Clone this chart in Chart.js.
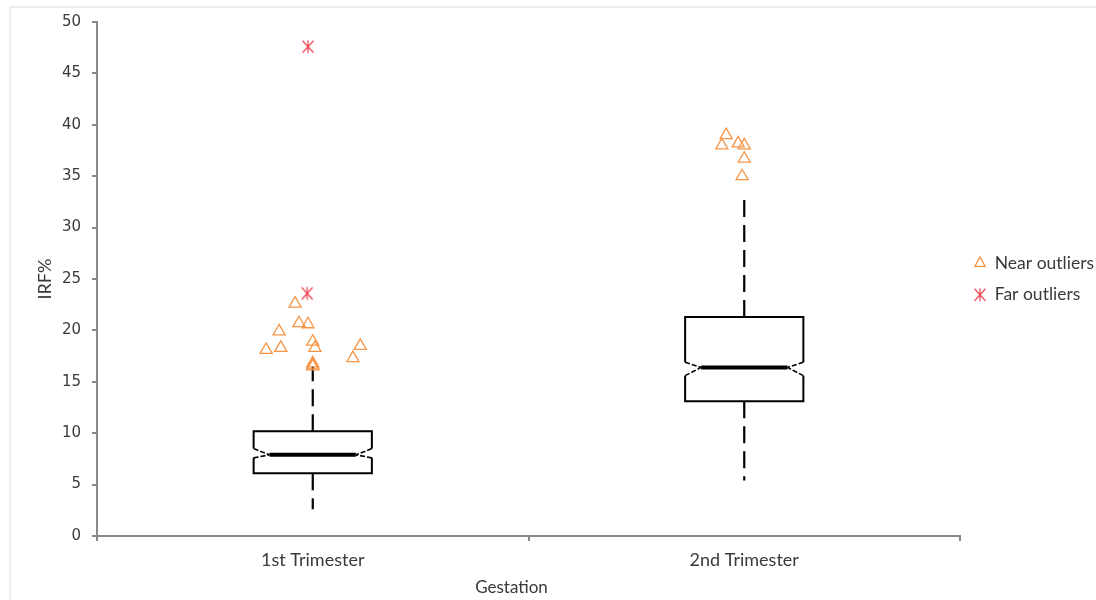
<!DOCTYPE html>
<html>
<head>
<meta charset="utf-8">
<script src="https://cdn.jsdelivr.net/npm/chart.js@4.4.1/dist/chart.umd.min.js"></script>
<style>
  body { margin: 0; background: #fff; }
  #wrap { position: relative; width: 1096px; height: 600px; overflow: hidden; }
  #frame { position: absolute; left: 9px; top: 6px; width: 1200px; height: 700px;
           border-left: 2px solid #ececec; border-top: 2px solid #ececec; }
  canvas { position: absolute; left: 0; top: 0; }
</style>
</head>
<body>
<div id="wrap">
  <div id="frame"></div>
  <canvas id="irf" width="1096" height="600"></canvas>
</div>
<script>
// categories and box statistics (IRF %)
const categories = ['1st Trimester', '2nd Trimester'];
const whiskerLow = [2.6, 5.4];
const q1 = [6.1, 13.1];
const notchLow = [7.6, 15.6];
const median = [7.9, 16.4];
const notchHigh = [8.5, 16.9];
const q3 = [10.2, 21.3];
const whiskerHigh = [16.5, 33.0];

// outliers, x = category index + jitter
const nearX = [-0.108, -0.074, -0.078, -0.041, -0.032, -0.011, 0.0, 0.005, 0.0, 0.0, 0.0, 0.093, 0.110,
               0.948, 0.958, 0.986, 1.0, 1.0, 0.995];
const nearY = [18.1, 18.3, 19.9, 22.6, 20.7, 20.6, 18.9, 18.3, 16.5, 16.6, 16.8, 17.3, 18.5,
               38.0, 39.0, 38.2, 38.0, 36.7, 35.0];
const farX = [-0.013, -0.011];
const farY = [23.6, 47.6];

const yTicks = [0, 5, 10, 15, 20, 25, 30, 35, 40, 45, 50];
const xTitle = 'Gestation';

// box geometry (axis units)
const boxHalf = 0.137;
const notchInset = 0.037;

const textColor = '#3a3a3a';
const axisColor = '#898989';
const nearColor = '#f79646';
const farColor = '#ea4452';

// asterisk marker for far outliers
const star = document.createElement('canvas');
star.width = 18; star.height = 18;
(function () {
  const c = star.getContext('2d');
  c.strokeStyle = farColor;
  c.lineWidth = 1.2;
  c.beginPath();
  c.moveTo(9, 2.5); c.lineTo(9, 15.5);
  c.moveTo(3.5, 3); c.lineTo(14.5, 15);
  c.moveTo(14.5, 3); c.lineTo(3.5, 15);
  c.stroke();
})();

const boxPlugin = {
  id: 'notchedBoxes',
  beforeDatasetsDraw(chart) {
    const {ctx, scales: {x, y}} = chart;
    const seg = (x1, y1, x2, y2) => { ctx.beginPath(); ctx.moveTo(x1, y1); ctx.lineTo(x2, y2); ctx.stroke(); };
    categories.forEach((c, i) => {
      const cx = x.getPixelForValue(i);
      const l = x.getPixelForValue(i - boxHalf);
      const r = x.getPixelForValue(i + boxHalf);
      const li = x.getPixelForValue(i - boxHalf + notchInset);
      const ri = x.getPixelForValue(i + boxHalf - notchInset);
      const yWl = y.getPixelForValue(whiskerLow[i]);
      const yQ1 = y.getPixelForValue(q1[i]);
      const yNl = y.getPixelForValue(notchLow[i]);
      const yM = y.getPixelForValue(median[i]);
      const yNh = y.getPixelForValue(notchHigh[i]);
      const yQ3 = y.getPixelForValue(q3[i]);
      const yWh = y.getPixelForValue(whiskerHigh[i]);
      ctx.save();
      ctx.strokeStyle = '#000';
      ctx.lineWidth = 2.2;
      // whiskers
      ctx.setLineDash([17, 8]);
      seg(cx, yQ3, cx, yWh);
      seg(cx, yQ1, cx, yWl);
      // notch diagonals
      ctx.lineWidth = 1.6;
      ctx.setLineDash([5, 2]);
      seg(l, yNh, li, yM);
      seg(l, yNl, li, yM);
      seg(r, yNh, ri, yM);
      seg(r, yNl, ri, yM);
      // box
      ctx.lineWidth = 2;
      ctx.setLineDash([]);
      ctx.beginPath();
      ctx.moveTo(l, yNh); ctx.lineTo(l, yQ3); ctx.lineTo(r, yQ3); ctx.lineTo(r, yNh);
      ctx.moveTo(l, yNl); ctx.lineTo(l, yQ1); ctx.lineTo(r, yQ1); ctx.lineTo(r, yNl);
      ctx.stroke();
      // median
      ctx.lineWidth = 4;
      seg(li, yM, ri, yM);
      ctx.restore();
    });
  }
};

// x axis title, placed a little left of the axis centre like the original
const xTitlePlugin = {
  id: 'xTitle',
  afterDraw(chart) {
    const {ctx, chartArea} = chart;
    ctx.save();
    ctx.font = '17px Lato';
    ctx.fillStyle = textColor;
    ctx.textAlign = 'center';
    ctx.textBaseline = 'middle';
    ctx.fillText(xTitle, (chartArea.left + chartArea.right) / 2 - 17, 588);
    ctx.restore();
  }
};

new Chart(document.getElementById('irf'), {
  type: 'scatter',
  data: {
    datasets: [
      {
        label: 'Near outliers',
        data: nearX.map((v, i) => ({x: v, y: nearY[i]})),
        pointStyle: 'triangle',
        radius: 7,
        borderColor: nearColor,
        backgroundColor: 'rgba(0,0,0,0)',
        borderWidth: 1.3
      },
      {
        label: 'Far outliers',
        data: farX.map((v, i) => ({x: v, y: farY[i]})),
        pointStyle: star,
        radius: 8,
        borderColor: farColor,
        backgroundColor: farColor
      }
    ]
  },
  options: {
    responsive: false,
    animation: false,
    events: [],
    layout: { padding: { top: 22, left: 0, right: 0, bottom: 0 } },
    plugins: {
      tooltip: { enabled: false },
      legend: {
        position: 'right',
        fullSize: false,
        maxWidth: 136,
        labels: {
          usePointStyle: true,
          pointStyleWidth: 12,
          boxHeight: 9,
          padding: 14,
          color: textColor,
          font: { family: 'Lato', size: 17.5 }
        }
      }
    },
    scales: {
      x: {
        type: 'linear',
        min: -0.5,
        max: 1.5,
        afterBuildTicks: s => { s.ticks = [-0.5, 0, 0.5, 1, 1.5].map(v => ({value: v})); },
        afterFit: s => { s.height = 64; },
        grid: {
          drawOnChartArea: false,
          tickLength: 5,
          lineWidth: 2,
          tickColor: c => (c.tick && Number.isInteger(c.tick.value)) ? 'rgba(0,0,0,0)' : axisColor
        },
        border: { color: axisColor, width: 2 },
        ticks: {
          autoSkip: false,
          maxRotation: 0,
          padding: 8,
          color: textColor,
          font: { family: 'Lato', size: 18 },
          callback: v => Number.isInteger(v) ? categories[v] : ''
        }
      },
      y: {
        min: 0,
        max: 50,
        afterBuildTicks: s => { s.ticks = yTicks.map(v => ({value: v})); },
        afterFit: s => { s.width = 97; },
        grid: { drawOnChartArea: false, tickLength: 5, lineWidth: 2, color: axisColor },
        border: { color: axisColor, width: 2 },
        ticks: {
          padding: 11,
          color: textColor,
          font: { family: 'DejaVu Sans', size: 15 }
        },
        title: {
          display: true,
          text: 'IRF%',
          color: textColor,
          font: { family: 'Lato', size: 18 },
          padding: { top: 34, bottom: 0 }
        }
      }
    }
  },
  plugins: [boxPlugin, xTitlePlugin]
});
</script>
</body>
</html>
